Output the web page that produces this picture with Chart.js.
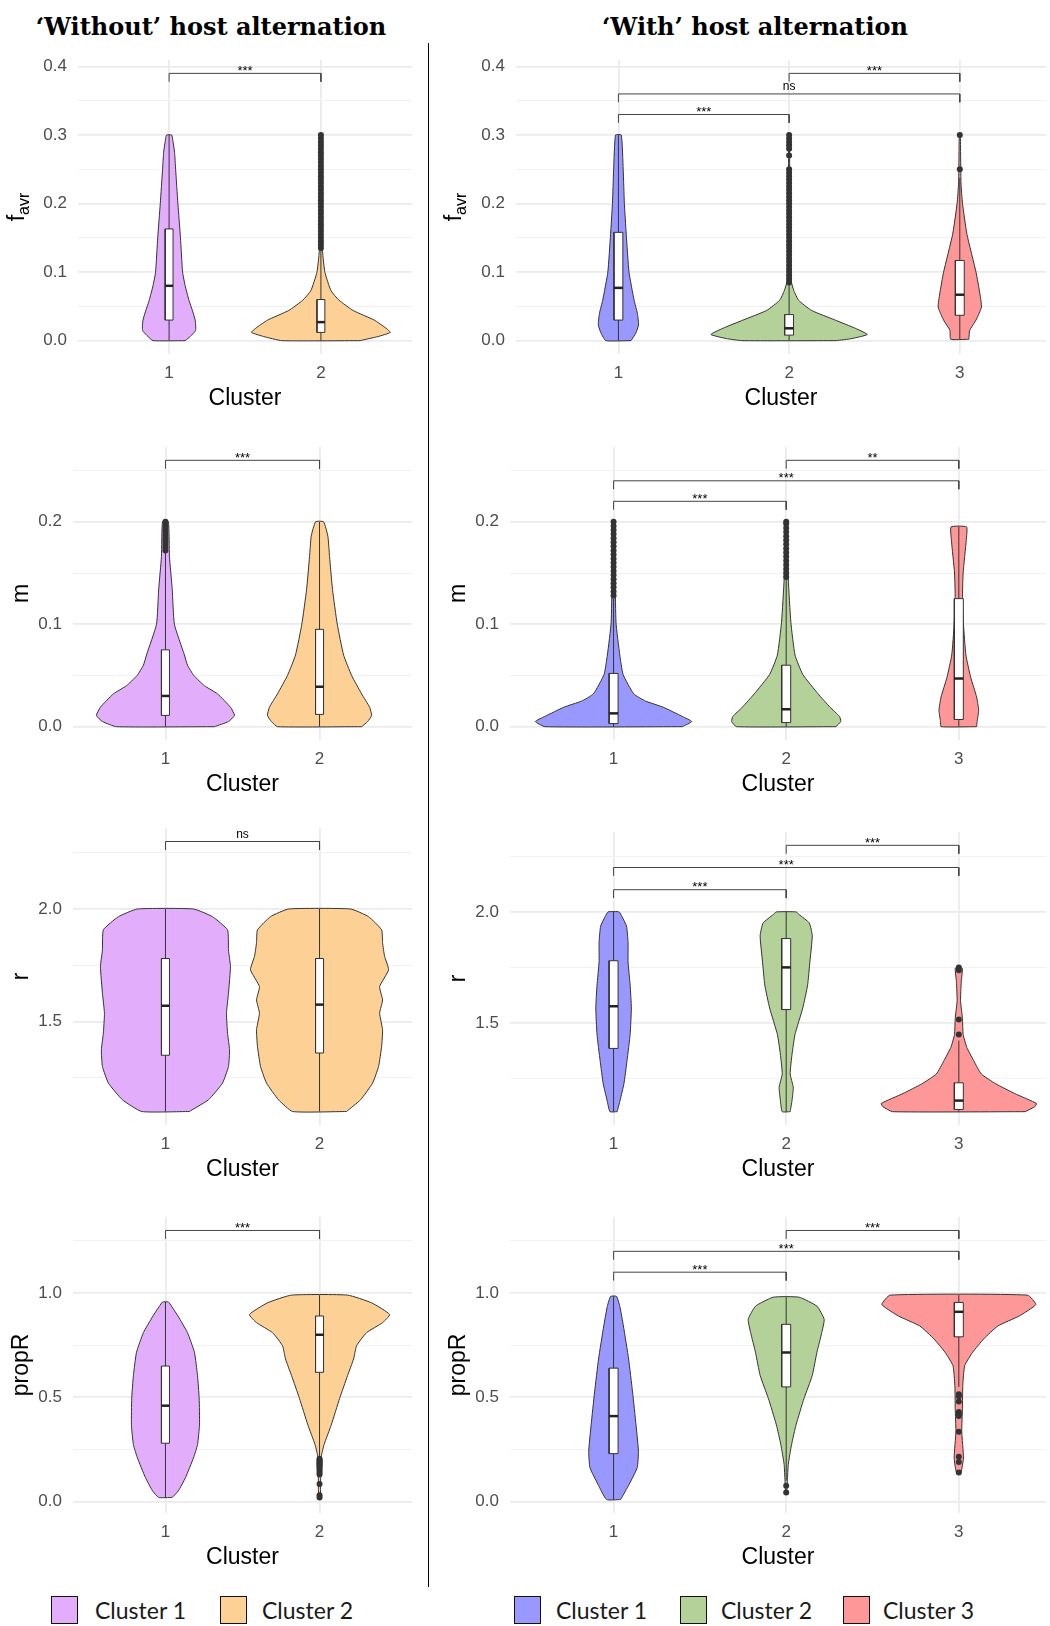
<!DOCTYPE html>
<html>
<head>
<meta charset="utf-8">
<title>Cluster violins</title>
<script src="https://cdn.jsdelivr.net/npm/chart.js@4.4.1/dist/chart.umd.min.js"></script>
<style>
  body { margin: 0; width: 1050px; height: 1626px; position: relative; background: #fff; overflow: hidden; }
  .panel { position: absolute; }
  .title { position: absolute; top: 12px; line-height: 28px; font: bold 24px "DejaVu Serif", serif; color: #000; white-space: nowrap; transform: translateX(-50%); }
  .sep { position: absolute; left: 428px; top: 43px; width: 1px; height: 1544px; background: #000; }
  .sw { position: absolute; top: 1596px; height: 26px; border: 1.5px solid #111; }
  .lab { position: absolute; top: 1596px; height: 29px; line-height: 29px; font: 23px Lato, sans-serif; color: #1a1a1a; white-space: nowrap; }
</style>
</head>
<body>
<div class="title" style="left:211px">‘Without’ host alternation</div>
<div class="title" style="left:755px">‘With’ host alternation</div>
<div class="sep"></div>
<div id="legend"></div>
<script>
// categories
const clusters = ['1', '2', '3'];
const legendNo = ['Cluster 1', 'Cluster 2'];
const legendWith = ['Cluster 1', 'Cluster 2', 'Cluster 3'];

// y axis ticks
const favrTicks = [0, 0.1, 0.2, 0.3, 0.4];
const favrTickLabels = ['0.0', '0.1', '0.2', '0.3', '0.4'];
const favrMinor = [0.05, 0.15, 0.25, 0.35];
const favrRange = [-0.0195, 0.4095];
const mTicks = [0, 0.1, 0.2];
const mTickLabels = ['0.0', '0.1', '0.2'];
const mMinor = [0.05, 0.15, 0.25];
const mRange = [-0.013, 0.273];
const rTicks = [1.5, 2.0];
const rTickLabels = ['1.5', '2.0'];
const rMinor = [1.25, 1.75, 2.25];
const rRange = [1.04, 2.36];
const propRTicks = [0, 0.5, 1.0];
const propRTickLabels = ['0.0', '0.5', '1.0'];
const propRMinor = [0.25, 0.75, 1.25];
const propRRange = [-0.0545, 1.3645];

// ---- 'Without' host alternation ----
// f_avr: violin levels (y) and half widths (w, in cluster units)
const noFavrY1 = [0, 0.006, 0.015, 0.03, 0.045, 0.058, 0.08, 0.1, 0.15, 0.2, 0.25, 0.275, 0.29, 0.3];
const noFavrW1 = [0.106, 0.139, 0.175, 0.172, 0.152, 0.132, 0.106, 0.089, 0.075, 0.058, 0.043, 0.036, 0.026, 0.017];
const noFavrY2 = [0, 0.006, 0.012, 0.018, 0.03, 0.044, 0.059, 0.073, 0.1, 0.13, 0.2, 0.3];
const noFavrW2 = [0.258, 0.377, 0.457, 0.43, 0.351, 0.212, 0.119, 0.066, 0.026, 0.011, 0.005, 0.003];
const noFavrBox = [[0.03, 0.08, 0.163], [0.012, 0.027, 0.06]];
const noFavrWhisker = [[0, 0.3], [0, 0.132]];
const noFavrOut2 = [0.135, 0.14, 0.145, 0.15, 0.155, 0.16, 0.165, 0.17, 0.175, 0.18, 0.185, 0.19, 0.195, 0.2, 0.205, 0.21, 0.215, 0.22, 0.225, 0.23, 0.235, 0.24, 0.245, 0.25, 0.255, 0.26, 0.265, 0.27, 0.275, 0.28, 0.285, 0.29, 0.295, 0.3];
const noFavrBr = [[1, 2, 0.39, '***']];

// m
const noMY1 = [0, 0.005, 0.011, 0.019, 0.032, 0.04, 0.05, 0.06, 0.07, 0.1, 0.134, 0.166, 0.2];
const noMW1 = [0.318, 0.409, 0.448, 0.422, 0.338, 0.253, 0.184, 0.143, 0.123, 0.058, 0.044, 0.026, 0.019];
const noMY2 = [0, 0.005, 0.011, 0.019, 0.032, 0.05, 0.07, 0.1, 0.134, 0.166, 0.186, 0.2];
const noMW2 = [0.273, 0.312, 0.338, 0.325, 0.273, 0.208, 0.156, 0.115, 0.084, 0.065, 0.054, 0.026];
const noMBox = [[0.011, 0.03, 0.075], [0.012, 0.039, 0.095]];
const noMWhisker = [[0, 0.171], [0, 0.2]];
const noMOut1 = [0.172, 0.175, 0.178, 0.181, 0.184, 0.187, 0.19, 0.193, 0.196, 0.2];
const noMBr = [[1, 2, 0.26, '***']];

// r
const noRY1 = [1.1, 1.152, 1.226, 1.3, 1.374, 1.448, 1.537, 1.626, 1.744, 1.818, 1.907, 1.966, 2.0];
const noRW1 = [0.154, 0.279, 0.37, 0.409, 0.416, 0.403, 0.396, 0.409, 0.422, 0.409, 0.403, 0.305, 0.182];
const noRY2 = [1.1, 1.152, 1.226, 1.3, 1.39, 1.463, 1.537, 1.596, 1.655, 1.73, 1.79, 1.85, 1.907, 1.966, 2.0];
const noRW2 = [0.175, 0.266, 0.344, 0.383, 0.403, 0.409, 0.39, 0.409, 0.39, 0.448, 0.422, 0.409, 0.403, 0.318, 0.201];
const noRBox = [[1.35, 1.57, 1.78], [1.36, 1.575, 1.78]];
const noRWhisker = [[1.1, 2.0], [1.1, 2.0]];
const noRBr = [[1, 2, 2.3, 'ns']];

// propR
const noPropRY1 = [0.02, 0.052, 0.115, 0.21, 0.273, 0.368, 0.494, 0.605, 0.716, 0.81, 0.89, 0.937, 0.957];
const noPropRW1 = [0.044, 0.084, 0.13, 0.182, 0.208, 0.221, 0.219, 0.208, 0.188, 0.143, 0.081, 0.039, 0.019];
const noPropRY2 = [0.02, 0.21, 0.273, 0.368, 0.494, 0.605, 0.684, 0.747, 0.81, 0.858, 0.897, 0.953, 0.99];
const noPropRW2 = [0.006, 0.01, 0.029, 0.076, 0.13, 0.182, 0.221, 0.24, 0.305, 0.409, 0.455, 0.338, 0.182];
const noPropRBox = [[0.28, 0.46, 0.65], [0.62, 0.8, 0.89]];
const noPropRWhisker = [[0.02, 0.957], [0.21, 0.99]];
const noPropROut2 = [0.205, 0.2, 0.195, 0.19, 0.185, 0.18, 0.175, 0.17, 0.16, 0.15, 0.14, 0.13, 0.085, 0.03, 0.02];
const noPropRBr = [[1, 2, 1.3, '***']];

// ---- 'With' host alternation ----
// f_avr
const withFavrY1 = [0, 0.011, 0.023, 0.04, 0.059, 0.1, 0.155, 0.2, 0.25, 0.3];
const withFavrW1 = [0.074, 0.102, 0.118, 0.111, 0.092, 0.062, 0.046, 0.035, 0.028, 0.017];
const withFavrY2 = [0, 0.003, 0.009, 0.018, 0.03, 0.044, 0.059, 0.073, 0.087, 0.2, 0.3];
const withFavrW2 = [0.277, 0.368, 0.458, 0.388, 0.27, 0.132, 0.055, 0.028, 0.012, 0.003, 0.003];
const withFavrY3 = [0.002, 0.015, 0.03, 0.049, 0.068, 0.1, 0.155, 0.2, 0.23, 0.3];
const withFavrW3 = [0.053, 0.058, 0.095, 0.127, 0.118, 0.095, 0.042, 0.016, 0.007, 0.003];
const withFavrBox = [[0.03, 0.077, 0.158], [0.008, 0.018, 0.038], [0.037, 0.067, 0.117]];
const withFavrWhisker = [[0, 0.3], [0, 0.083], [0.002, 0.237]];
const withFavrOut2 = [0.085, 0.09, 0.095, 0.1, 0.105, 0.11, 0.115, 0.12, 0.125, 0.13, 0.135, 0.14, 0.145, 0.15, 0.155, 0.16, 0.165, 0.17, 0.175, 0.18, 0.185, 0.19, 0.195, 0.2, 0.205, 0.21, 0.215, 0.22, 0.225, 0.23, 0.235, 0.24, 0.245, 0.25, 0.27, 0.28, 0.285, 0.29, 0.295, 0.3];
const withFavrOut3 = [0.25, 0.3];
const withFavrBr = [[2, 3, 0.39, '***'], [1, 3, 0.36, 'ns'], [1, 2, 0.33, '***']];

// m
const withMY1 = [0, 0.005, 0.01, 0.019, 0.025, 0.032, 0.051, 0.07, 0.102, 0.2];
const withMW1 = [0.398, 0.453, 0.398, 0.288, 0.185, 0.117, 0.055, 0.036, 0.014, 0.003];
const withMY2 = [0, 0.005, 0.01, 0.019, 0.032, 0.051, 0.07, 0.102, 0.144, 0.2];
const withMW2 = [0.288, 0.316, 0.309, 0.254, 0.185, 0.096, 0.051, 0.027, 0.012, 0.003];
const withMY3 = [0, 0.005, 0.016, 0.029, 0.048, 0.07, 0.1, 0.125, 0.15, 0.182, 0.195];
const withMW3 = [0.103, 0.106, 0.115, 0.103, 0.069, 0.041, 0.027, 0.021, 0.025, 0.043, 0.045];
const withMBox = [[0.003, 0.013, 0.052], [0.004, 0.017, 0.06], [0.007, 0.047, 0.125]];
const withMWhisker = [[0, 0.125], [0, 0.144], [0, 0.195]];
const withMOut1 = [0.128, 0.132, 0.136, 0.14, 0.144, 0.148, 0.152, 0.156, 0.16, 0.164, 0.168, 0.172, 0.176, 0.18, 0.184, 0.188, 0.192, 0.196, 0.2];
const withMOut2 = [0.146, 0.15, 0.154, 0.158, 0.162, 0.166, 0.17, 0.174, 0.178, 0.182, 0.186, 0.19, 0.194, 0.198, 0.2];
const withMBr = [[2, 3, 0.26, '**'], [1, 3, 0.24, '***'], [1, 2, 0.22, '***']];

// r
const withRY1 = [1.1, 1.152, 1.226, 1.33, 1.448, 1.567, 1.67, 1.774, 1.862, 1.936, 1.98, 2.0];
const withRW1 = [0.021, 0.038, 0.06, 0.078, 0.096, 0.103, 0.096, 0.084, 0.084, 0.075, 0.048, 0.032];
const withRY2 = [1.1, 1.152, 1.21, 1.27, 1.36, 1.448, 1.567, 1.67, 1.774, 1.892, 1.95, 1.988, 2.0];
const withRW2 = [0.023, 0.034, 0.041, 0.023, 0.034, 0.051, 0.096, 0.124, 0.137, 0.151, 0.134, 0.075, 0.057];
const withRY3 = [1.1, 1.122, 1.137, 1.182, 1.226, 1.27, 1.33, 1.39, 1.448, 1.52, 1.6, 1.685, 1.745, 1.755];
const withRW3 = [0.384, 0.439, 0.45, 0.323, 0.213, 0.13, 0.086, 0.046, 0.025, 0.021, 0.01, 0.014, 0.021, 0.007];
const withRBox = [[1.385, 1.575, 1.78], [1.56, 1.75, 1.88], [1.11, 1.15, 1.23]];
const withRWhisker = [[1.1, 2.0], [1.1, 2.0], [1.1, 1.42]];
const withROut3 = [1.749, 1.737, 1.515, 1.448];
const withRBr = [[2, 3, 2.3, '***'], [1, 3, 2.2, '***'], [1, 2, 2.1, '***']];

// propR
const withPropRY1 = [0.01, 0.084, 0.163, 0.242, 0.368, 0.526, 0.684, 0.842, 0.937, 0.984];
const withPropRW1 = [0.041, 0.091, 0.137, 0.144, 0.13, 0.11, 0.087, 0.057, 0.036, 0.017];
const withPropRY2 = [0.04, 0.1, 0.178, 0.273, 0.368, 0.494, 0.605, 0.716, 0.81, 0.874, 0.937, 0.98];
const withPropRW2 = [0.003, 0.007, 0.012, 0.031, 0.057, 0.103, 0.151, 0.178, 0.206, 0.22, 0.178, 0.075];
const withPropRY3 = [0.14, 0.21, 0.336, 0.447, 0.557, 0.652, 0.716, 0.78, 0.842, 0.89, 0.945, 0.99];
const withPropRW3 = [0.014, 0.027, 0.017, 0.021, 0.023, 0.034, 0.08, 0.144, 0.226, 0.35, 0.446, 0.398];
const withPropRBox = [[0.23, 0.41, 0.64], [0.55, 0.715, 0.85], [0.79, 0.91, 0.955]];
const withPropRWhisker = [[0.01, 0.984], [0.1, 0.98], [0.55, 0.99]];
const withPropROut2 = [0.076, 0.044];
const withPropROut3 = [0.515, 0.505, 0.48, 0.43, 0.42, 0.41, 0.335, 0.215, 0.19, 0.14];
const withPropRBr = [[2, 3, 1.3, '***'], [1, 3, 1.2, '***'], [1, 2, 1.1, '***']];

// ---- layout / style ----
const FONT = '"Liberation Sans", Arial, sans-serif';
const X_AXIS_H = 60;
const BOX_HALF = 0.026;
const rows = [{top: 56, h: 298}, {top: 443, h: 297}, {top: 828, h: 297}, {top: 1213, h: 300}];
const cols = {
  no: {left: 0, width: 426, padRight: 14, xMax: [2.6, 2.6, 2.6, 2.6], yw: [78, 73, 73, 73],
       titleX: 28, colors: ['#E2AEFC', '#FDD196']},
  with: {left: 430, width: 620, padRight: 0, xMax: [3.505, 3.505, 3.505, 3.505], yw: [86, 80, 80, 80],
       titleX: 35, colors: ['#9898FE', '#B3D199', '#FE9797']}
};

const panels = [
  {col: 'no', row: 0, title: 'f', sub: 'avr', ticks: favrTicks, labels: favrTickLabels, minor: favrMinor, range: favrRange,
   violins: [[noFavrY1, noFavrW1], [noFavrY2, noFavrW2]], box: noFavrBox, whisker: noFavrWhisker, out: [[], noFavrOut2], brackets: noFavrBr},
  {col: 'no', row: 1, title: 'm', ticks: mTicks, labels: mTickLabels, minor: mMinor, range: mRange,
   violins: [[noMY1, noMW1], [noMY2, noMW2]], box: noMBox, whisker: noMWhisker, out: [noMOut1, []], brackets: noMBr},
  {col: 'no', row: 2, title: 'r', ticks: rTicks, labels: rTickLabels, minor: rMinor, range: rRange,
   violins: [[noRY1, noRW1], [noRY2, noRW2]], box: noRBox, whisker: noRWhisker, out: [[], []], brackets: noRBr},
  {col: 'no', row: 3, title: 'propR', ticks: propRTicks, labels: propRTickLabels, minor: propRMinor, range: propRRange,
   violins: [[noPropRY1, noPropRW1], [noPropRY2, noPropRW2]], box: noPropRBox, whisker: noPropRWhisker, out: [[], noPropROut2], brackets: noPropRBr},
  {col: 'with', row: 0, title: 'f', sub: 'avr', ticks: favrTicks, labels: favrTickLabels, minor: favrMinor, range: favrRange,
   violins: [[withFavrY1, withFavrW1], [withFavrY2, withFavrW2], [withFavrY3, withFavrW3]], box: withFavrBox, whisker: withFavrWhisker,
   out: [[], withFavrOut2, withFavrOut3], brackets: withFavrBr},
  {col: 'with', row: 1, title: 'm', ticks: mTicks, labels: mTickLabels, minor: mMinor, range: mRange,
   violins: [[withMY1, withMW1], [withMY2, withMW2], [withMY3, withMW3]], box: withMBox, whisker: withMWhisker,
   out: [withMOut1, withMOut2, []], brackets: withMBr},
  {col: 'with', row: 2, title: 'r', ticks: rTicks, labels: rTickLabels, minor: rMinor, range: rRange,
   violins: [[withRY1, withRW1], [withRY2, withRW2], [withRY3, withRW3]], box: withRBox, whisker: withRWhisker,
   out: [[], [], withROut3], brackets: withRBr},
  {col: 'with', row: 3, title: 'propR', ticks: propRTicks, labels: propRTickLabels, minor: propRMinor, range: propRRange,
   violins: [[withPropRY1, withPropRW1], [withPropRY2, withPropRW2], [withPropRY3, withPropRW3]], box: withPropRBox, whisker: withPropRWhisker,
   out: [[], withPropROut2, withPropROut3], brackets: withPropRBr}
];

// bracket labels and the y axis title (with subscript)
function annotPlugin(p, col) {
  return {
    id: 'annot',
    afterDatasetsDraw(chart) {
      const {ctx, chartArea} = chart;
      const x = chart.scales.x, y = chart.scales.y;
      ctx.save();
      ctx.fillStyle = '#000';
      ctx.textAlign = 'center';
      ctx.textBaseline = 'alphabetic';
      p.brackets.forEach(b => {
        const star = b[3].indexOf('*') >= 0;
        ctx.font = (star ? '13px ' : '12px ') + FONT;
        ctx.fillText(b[3], x.getPixelForValue((b[0] + b[1]) / 2), y.getPixelForValue(b[2]) + (star ? 1.5 : -4));
      });
      ctx.translate(col.titleX, (chartArea.top + chartArea.bottom) / 2);
      ctx.rotate(-Math.PI / 2);
      ctx.textAlign = 'left';
      ctx.font = '23px ' + FONT;
      const w1 = ctx.measureText(p.title).width;
      ctx.font = '16px ' + FONT;
      const w2 = p.sub ? ctx.measureText(p.sub).width : 0;
      const sx = -(w1 + w2) / 2;
      ctx.font = '23px ' + FONT;
      ctx.fillText(p.title, sx, p.sub ? -4 : 0);
      if (p.sub) {
        ctx.font = '16px ' + FONT;
        ctx.fillText(p.sub, sx + w1, 1);
      }
      ctx.restore();
    }
  };
}

function buildPanel(p) {
  const col = cols[p.col], row = rows[p.row];
  const holder = document.createElement('div');
  holder.className = 'panel';
  holder.style.left = col.left + 'px';
  holder.style.top = row.top + 'px';
  holder.style.width = col.width + 'px';
  holder.style.height = (row.h + X_AXIS_H) + 'px';
  const canvas = document.createElement('canvas');
  holder.appendChild(canvas);
  document.body.appendChild(holder);

  const yw = col.yw[p.row];
  const [yMin, yMax] = p.range;
  const tip = 8.5 * (yMax - yMin) / row.h;
  const datasets = [];

  // violins: right edge going up, left edge coming down
  p.violins.forEach(([ys, ws], i) => {
    const c = i + 1;
    const pts = ys.map((v, k) => ({x: c + ws[k], y: v}));
    for (let k = ys.length - 1; k >= 0; k--) pts.push({x: c - ws[k], y: ys[k]});
    pts.push(pts[0]);
    datasets.push({data: pts, fill: 'shape', backgroundColor: col.colors[i], borderColor: '#333', borderWidth: 1,
      pointRadius: 0, tension: 0.15, order: 6});
  });
  // whiskers
  p.whisker.forEach(([lo, hi], i) => {
    datasets.push({data: [{x: i + 1, y: lo}, {x: i + 1, y: hi}], borderColor: '#333', borderWidth: 1,
      pointRadius: 0, fill: false, order: 5});
  });
  // boxes and medians
  p.box.forEach(([q1, med, q3], i) => {
    const c = i + 1;
    datasets.push({data: [{x: c - BOX_HALF, y: q1}, {x: c + BOX_HALF, y: q1}, {x: c + BOX_HALF, y: q3},
      {x: c - BOX_HALF, y: q3}, {x: c - BOX_HALF, y: q1}],
      fill: 'shape', backgroundColor: '#fff', borderColor: '#333', borderWidth: 1, pointRadius: 0, order: 4});
    datasets.push({data: [{x: c - BOX_HALF, y: med}, {x: c + BOX_HALF, y: med}], borderColor: '#222', borderWidth: 2.5,
      pointRadius: 0, fill: false, order: 3});
  });
  // outliers
  p.out.forEach((vals, i) => {
    if (!vals.length) return;
    datasets.push({data: vals.map(v => ({x: i + 1, y: v})), showLine: false, pointRadius: 3,
      pointBackgroundColor: '#333', pointBorderColor: '#333', pointBorderWidth: 0, fill: false, order: 2});
  });
  // significance brackets
  p.brackets.forEach(([a, b, h]) => {
    datasets.push({data: [{x: a, y: h - tip}, {x: a, y: h}, {x: b, y: h}, {x: b, y: h - tip}],
      borderColor: '#444', borderWidth: 1, pointRadius: 0, fill: false, order: 1});
  });

  const isMinor = c => c.tick && p.minor.includes(c.tick.value);

  new Chart(canvas, {
    type: 'line',
    data: {datasets},
    options: {
      responsive: true,
      maintainAspectRatio: false,
      animation: false,
      events: [],
      layout: {padding: {left: 0, right: col.padRight, top: 0, bottom: 0}},
      plugins: {legend: {display: false}, tooltip: {enabled: false}, title: {display: false}},
      scales: {
        x: {
          type: 'linear', min: 0.4, max: col.xMax[p.row], bounds: 'data',
          afterBuildTicks: s => { s.ticks = p.violins.map((v, i) => ({value: i + 1})); },
          afterFit: s => { s.height = X_AXIS_H; s.paddingLeft = 0; s.paddingRight = 0; },
          ticks: {autoSkip: false, maxRotation: 0, padding: 9, color: '#4D4D4D', font: {size: 17},
            callback: v => clusters[v - 1]},
          grid: {color: '#EBEBEB', lineWidth: 1.8, drawTicks: false},
          border: {display: false},
          title: {display: true, text: 'Cluster', color: '#000', font: {size: 23}, padding: {top: 0, bottom: 2}}
        },
        y: {
          type: 'linear', min: yMin, max: yMax, bounds: 'data',
          afterBuildTicks: s => { s.ticks = p.ticks.concat(p.minor).sort((a, b) => a - b).map(v => ({value: v})); },
          afterFit: s => { s.width = yw; s.paddingTop = 0; s.paddingBottom = 0; },
          ticks: {autoSkip: false, padding: 11, color: '#4D4D4D', font: {size: 17},
            callback: v => { const k = p.ticks.indexOf(v); return k >= 0 ? p.labels[k] : ''; }},
          grid: {drawTicks: false, color: c => isMinor(c) ? '#F1F1F1' : '#EBEBEB', lineWidth: c => isMinor(c) ? 1 : 1.8},
          border: {display: false}
        }
      }
    },
    plugins: [annotPlugin(p, col)]
  });
}

panels.forEach(buildPanel);

// shared legends
const legendSpots = [
  {names: legendNo, colors: cols.no.colors, box: [51, 220], text: [95, 262], w: 25},
  {names: legendWith, colors: cols.with.colors, box: [514, 680, 843], text: [556, 721, 883], w: 25}
];
const legendEl = document.getElementById('legend');
legendSpots.forEach(g => {
  g.names.forEach((name, i) => {
    const sw = document.createElement('div');
    sw.className = 'sw';
    sw.style.left = g.box[i] + 'px';
    sw.style.width = g.w + 'px';
    sw.style.background = g.colors[i];
    legendEl.appendChild(sw);
    const lab = document.createElement('div');
    lab.className = 'lab';
    lab.style.left = g.text[i] + 'px';
    lab.textContent = name;
    legendEl.appendChild(lab);
  });
});
</script>
</body>
</html>
